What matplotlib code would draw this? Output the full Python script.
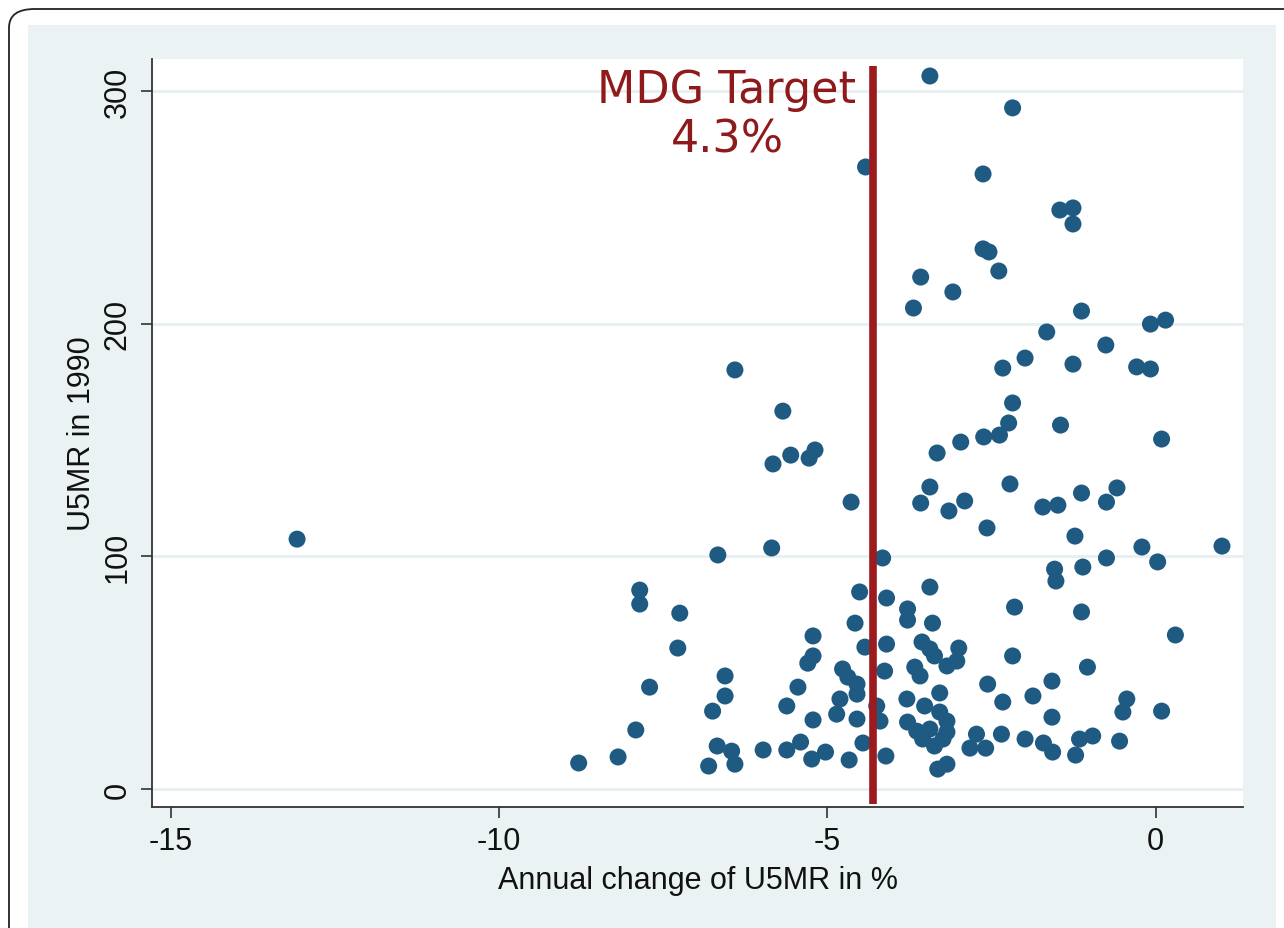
import matplotlib
matplotlib.use('Agg')
from matplotlib import pyplot as plt
from matplotlib.patches import FancyBboxPatch, Rectangle

# annual change of U5MR (%) and U5MR in 1990
change = [
    -3.44, -2.18, -4.42, -2.63, -1.46, -1.26, -1.26, -2.63, -2.54, -2.39,
    -3.58, -3.09, -3.69, -1.13, 0.15, -0.08, -1.66, -0.76, -1.99, -2.33,
    -1.26, -0.29, -0.08, -6.41, -2.18, -5.68, -2.24, -2.38, -2.62, -1.45,
    0.09, -2.97, -3.33, -5.56, -5.28, -5.19, -5.83, -3.44, -2.22, -0.59,
    -1.13, -2.91, -4.64, -0.75, -3.58, -3.15, -1.72, -1.49, -2.57, -1.23,
    -13.08, -0.21, 1.01, 0.03, -0.75, -1.11, -1.54, -1.52, -6.67, -5.85,
    -4.16, -7.86, -7.86, -7.25, -7.28, -4.51, -4.10, -3.44, -3.78, -3.78,
    -3.40, -4.58, -5.22, -2.15, -1.13, 0.30, -4.10, -4.43, -3.56, -3.44,
    -3.37, -3.00, -3.03, -3.18, -2.18, -1.04, -5.22, -5.30, -4.13, -3.67,
    -3.59, -4.77, -4.69, -4.55, -6.56, -6.56, -7.71, -5.45, -2.56, -1.58,
    -1.87, -2.33, -3.29, -3.79, -4.55, -0.44, -0.50, 0.09, -6.75, -5.62,
    -4.81, -4.86, -4.55, -5.22, -4.25, -4.20, -1.58, -3.52, -3.29, -3.18,
    -3.78, -3.64, -3.44, -3.18, -3.55, -3.37, -3.24, -7.92, -2.73, -2.83,
    -2.59, -2.35, -1.99, -1.71, -1.57, -1.16, -0.96, -1.22, -0.55, -4.46,
    -4.11, -4.67, -3.32, -3.18, -6.68, -6.46, -6.41, -6.81, -5.98, -5.62,
    -5.41, -5.24, -5.03, -8.79, -8.19,
]
u5mr_1990 = [
    306.4, 292.7, 267.3, 264.3, 248.8, 249.7, 242.8, 232.1, 230.8, 222.6,
    220.0, 213.6, 206.7, 205.4, 201.5, 199.8, 196.4, 190.8, 185.2, 180.9,
    182.6, 181.4, 180.5, 180.1, 165.9, 162.4, 157.3, 152.1, 151.3, 156.4,
    150.4, 149.1, 144.4, 143.5, 142.2, 145.7, 139.7, 129.8, 131.1, 129.4,
    127.2, 123.8, 123.3, 123.3, 122.9, 119.5, 121.2, 122.0, 112.2, 108.7,
    107.4, 104.0, 104.4, 97.6, 99.3, 95.4, 94.5, 89.4, 100.6, 103.6,
    99.3, 85.5, 79.5, 75.6, 60.6, 84.7, 82.1, 86.8, 77.4, 72.6,
    71.3, 71.3, 65.8, 78.2, 76.1, 66.2, 62.3, 61.0, 63.2, 60.2,
    57.2, 60.6, 55.0, 52.9, 57.2, 52.4, 57.2, 54.1, 50.7, 52.4,
    48.6, 51.6, 48.1, 45.1, 48.6, 40.0, 43.8, 43.8, 45.1, 46.4,
    40.0, 37.4, 41.3, 38.7, 40.8, 38.7, 33.1, 33.5, 33.5, 35.7,
    38.7, 32.2, 30.1, 29.7, 35.7, 29.2, 30.9, 35.7, 33.1, 29.2,
    28.8, 24.9, 25.8, 24.5, 21.5, 18.5, 21.5, 25.4, 23.6, 17.6,
    17.6, 23.6, 21.5, 19.8, 15.9, 21.5, 22.8, 14.6, 20.6, 19.8,
    14.2, 12.5, 8.6, 10.7, 18.5, 16.3, 10.7, 9.9, 16.8, 16.8,
    20.2, 12.9, 15.9, 11.2, 13.8,
]
target = -4.3
x_ticks = [-15, -10, -5, 0]
y_ticks = [0, 100, 200, 300]

plt.rcParams['font.family'] = ['Liberation Sans', 'DejaVu Sans']
plt.rcParams['axes.unicode_minus'] = False

fig = plt.figure(figsize=(12.84, 9.29), dpi=100)
W, H = 1284, 929

# outer frame and light background (Stata style)
fig.patches.append(FancyBboxPatch((9 / W, -0.1), 1.1, 1 - 10 / H + 0.1,
                                  boxstyle='round,pad=0,rounding_size=0.02',
                                  transform=fig.transFigure, facecolor='white',
                                  edgecolor='#222222', linewidth=1.3, zorder=-3))
fig.patches.append(Rectangle((28 / W, 0), (1276 - 28) / W, 1 - 26 / H,
                             transform=fig.transFigure, facecolor='#eaf2f4',
                             edgecolor='none', zorder=-2))

ax = fig.add_axes([152 / W, 1 - 808 / H, (1243 - 152) / W, (808 - 60) / H])
ax.set_facecolor('white')

for v in y_ticks:
    ax.axhline(v, color='#e6eff1', linewidth=2, zorder=0)

ax.scatter(change, u5mr_1990, s=150, color='#1f5a82', edgecolors='none', zorder=2)

ax.plot([target, target], [-6.5, 310.5], color='#9b1b1e', linewidth=5.5,
        solid_capstyle='butt', zorder=3)
ax.text(-6.53, 290, 'MDG Target\n4.3%', ha='center', va='center',
        fontsize=32, color='#8e1a1c', family=['DejaVu Sans'], zorder=4)

ax.set_xlim(-15.29, 1.33)
ax.set_ylim(-7.7, 313.7)
ax.set_xticks(x_ticks)
ax.set_yticks(y_ticks)
ax.set_yticklabels([str(v) for v in y_ticks], rotation=90, va='center')

for side in ['top', 'right']:
    ax.spines[side].set_visible(False)
for side in ['left', 'bottom']:
    ax.spines[side].set_color('#333333')
    ax.spines[side].set_linewidth(1.3)

ax.tick_params(axis='both', direction='out', length=8, width=1.2,
               color='#333333', labelsize=22, labelcolor='#111111', pad=6)

ax.set_xlabel('Annual change of U5MR in %', fontsize=22, color='#111111', labelpad=6)
ax.set_ylabel('U5MR in 1990', fontsize=22, color='#111111', labelpad=4)

fig.savefig('out.png', dpi=100)
